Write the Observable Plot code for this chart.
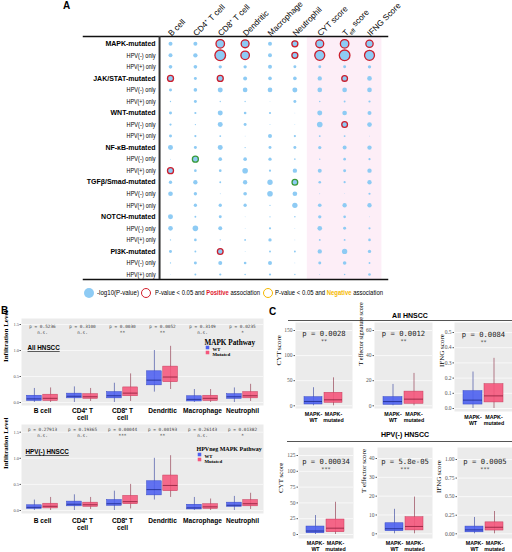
<!DOCTYPE html>
<html><head><meta charset="utf-8">
<script src="https://cdn.jsdelivr.net/npm/d3@7"></script>
<script src="https://cdn.jsdelivr.net/npm/@observablehq/plot@0.6"></script>
<style>
html,body{margin:0;padding:0;background:#fff;}
#root{position:relative;width:512px;height:552px;overflow:hidden;font-family:"Liberation Sans",Arial,sans-serif;color:#000;}
#root svg{position:absolute;}
.t{position:absolute;white-space:nowrap;line-height:1;}
.ring{position:absolute;width:10px;height:10px;border-radius:50%;box-sizing:border-box;}
</style></head><body><div id="root"></div>
<script>
// ---------------- Panel A data ----------------
const aColumns = ["B cell","CD4⁺ T cell","CD8⁺ T cell","Dendritic","Macrophage","Neutrophil","CYT score","Teff score","IFNG Score"];
const aRows = ["MAPK-mutated","HPV(-) only","HPV(+) only","JAK/STAT-mutated","HPV(-) only","HPV(+) only","WNT-mutated","HPV(-) only","HPV(+) only","NF-κB-mutated","HPV(-) only","HPV(+) only","TGFβ/Smad-mutated","HPV(-) only","HPV(+) only","NOTCH-mutated","HPV(-) only","HPV(+) only","PI3K-mutated","HPV(-) only","HPV(+) only"];
const aNegLog10P = [
 [0.66,0.66,3.0,2.6,0.66,1.5,2.6,3.0,2.2],
 [0.66,0.78,4.7,3.0,0.66,1.5,4.1,4.7,4.1],
 [0.55,0.55,0.46,0.46,0.66,0.37,0.37,0.37,0.46],
 [1.5,0.37,1.5,0.66,0.55,0.55,0.78,1.35,0.9],
 [0.37,0.55,1.03,0.9,0.9,1.03,0.9,0.9,0.9],
 [0.07,0.37,0.07,0.07,0.02,0.37,0.1,0.15,0.2],
 [0.37,0.2,1.03,0.29,0.2,0.02,1.03,0.9,0.66],
 [0.2,0.07,1.03,0.37,0.03,0.02,1.3,1.35,0.9],
 [0.37,0.2,0.15,0.02,0.66,0.2,0.15,0.15,0.03],
 [1.03,0.37,1.03,0.07,0.37,0.37,0.46,0.66,0.78],
 [0.03,1.5,0.55,0.55,0.46,0.1,0.07,0.29,0.2],
 [1.5,0.29,0.29,1.3,0.2,0.78,0.66,0.37,0.78],
 [0.46,0.78,0.15,0.78,1.17,1.35,0.29,0.2,0.78],
 [0.9,0.46,0.03,0.55,1.3,0.9,0.03,0.02,0.2],
 [0,0.46,0.46,0.46,0.07,1.17,0.55,0.78,0.78],
 [1.03,0.15,0.37,0.02,0.07,0.1,0.46,0.29,0.03],
 [0.9,1.3,0.66,0.02,0.2,0.02,0.9,0.37,0.2],
 [0.07,0.29,0.07,0.15,0.46,0.02,0.15,0.15,0.29],
 [0.37,0.15,1.35,0.02,0.15,0.15,0.78,1.17,0.46],
 [0.07,0.37,0.66,0.29,0.66,0.02,0.37,0.55,0.15],
 [0.02,0.15,0.2,0.1,0.2,0.07,0.03,0.1,0.29]
];
const aPositive = [[0,2],[0,3],[0,5],[0,6],[0,7],[0,8],[1,2],[1,3],[1,5],[1,6],[1,7],[1,8],[3,0],[3,2],[3,7],[7,7],[11,0],[18,2]];
const aNegative = [[10,1],[12,5]];

// ---------------- Panel B data: [lo, q1, median, q3, hi] ----------------
const bCells = ["B cell","CD4⁺ T\ncell","CD8⁺ T\ncell","Dendritic","Macrophage","Neutrophil"];
const bAllWT  = [[0,0.03,0.07,0.13,0.27],[0,0.08,0.12,0.17,0.30],[0,0.08,0.13,0.20,0.37],[0.2,0.33,0.43,0.60,1.0],[0,0.02,0.06,0.12,0.25],[0,0.07,0.11,0.16,0.28]];
const bAllMut = [[0,0.03,0.08,0.15,0.28],[0.02,0.07,0.11,0.16,0.27],[0.02,0.12,0.18,0.29,0.55],[0.25,0.39,0.49,0.69,1.08],[0,0.03,0.08,0.13,0.25],[0.02,0.08,0.13,0.20,0.35]];
const bAllP   = ["0.5236","0.3100","0.0030","0.0052","0.3149","0.0235"];
const bAllSig = ["n.s.","n.s.","**","**","n.s.","*"];
const bHpvWT  = [[0,0.03,0.06,0.10,0.20],[0,0.08,0.12,0.17,0.30],[0,0.09,0.13,0.20,0.37],[0.2,0.29,0.40,0.56,1.0],[0,0.02,0.05,0.11,0.25],[0,0.07,0.10,0.15,0.27]];
const bHpvMut = [[0,0.04,0.08,0.13,0.25],[0.02,0.07,0.11,0.15,0.25],[0.03,0.12,0.17,0.28,0.50],[0.25,0.37,0.48,0.67,1.05],[0,0.03,0.07,0.12,0.22],[0.02,0.08,0.13,0.20,0.33]];
const bHpvP   = ["0.27913","0.19365","0.00044","0.00193","0.26143","0.01382"];
const bHpvSig = ["n.s.","n.s.","***","**","n.s.","*"];

// ---------------- Panel C data: [lo, q1, median, q3, hi] ----------------
const cGroups = ["MAPK-\nWT","MAPK-\nmutated"];
const cAllCyt  = {wt:[0,2.6,8.6,17.1,36],   mut:[0,6,11.9,25.9,55.7], p:"0.0028",  s:"**"};
const cAllTeff = {wt:[0,0.8,3.4,6.9,17],    mut:[0,1.6,5.3,11.3,25.8], p:"0.0012", s:"**"};
const cAllIfng = {wt:[0,0.026,0.055,0.114,0.24], mut:[0,0.04,0.083,0.16,0.33], p:"0.0084", s:"**"};
const cHpvCyt  = {wt:[0,2,5.5,12.6,30],     mut:[0,3.6,10,23.7,51], p:"0.00034", s:"***"};
const cHpvTeff = {wt:[0,1.4,2.7,5.6,13],    mut:[0,1.8,3.9,8.8,19.5], p:"5.8e-05", s:"***"};
const cHpvIfng = {wt:[0,0.02,0.053,0.097,0.22], mut:[0,0.044,0.088,0.154,0.30], p:"0.0005", s:"***"};

// ---------------- helpers ----------------
const SANS = "'Liberation Sans', Arial, sans-serif";
const SERIF = "'Liberation Serif','Times New Roman',serif";
const MONO = "'DejaVu Sans Mono','Liberation Mono',monospace";
const root = document.getElementById("root");
function put(node, left, top){ node.style.left = left+"px"; node.style.top = top+"px"; root.appendChild(node); return node; }
function label(html, left, top, css){ const d=document.createElement("div"); d.className="t"; d.innerHTML=html; Object.assign(d.style, css||{}); return put(d,left,top); }
function squeeze(el, target){ const w=el.getBoundingClientRect().width; if (w>0){ el.style.transformOrigin="left center"; el.style.transform=`scaleX(${target/w})`; } }
const WT_FILL="#4d60f0", MUT_FILL="#f5577c";

// ---------------- Panel A ----------------
const dotFill = "#8ecbf4";
const posSet = new Set(aPositive.map(([i,j])=>i+","+j));
const negSet = new Set(aNegative.map(([i,j])=>i+","+j));
const aCells = [];
aRows.forEach((r,i)=>aColumns.forEach((c,j)=>aCells.push({i,j,v:aNegLog10P[i][j],k:i+","+j})));
const aRowData = aRows.map((label,i)=>({label,i,main:!label.startsWith("HPV")}));
const plotA = Plot.plot({
  width:512, height:300, marginLeft:83, marginRight:125, marginTop:36, marginBottom:21,
  x:{domain:[0,8], range:[170,369], axis:null},
  y:{domain:[0,20], range:[43.3,274], axis:null},
  r:{type:"sqrt", domain:[0,5], range:[0,5.5]},
  style:{background:"transparent", overflow:"visible", fontFamily:SANS},
  marks:[
    Plot.rect([{a:5.5,b:8.5}], {x1:"a", x2:"b", fill:"#fdeef7"}),
    Plot.frame({anchor:"top", stroke:"#111", strokeWidth:1.5}),
    Plot.frame({anchor:"bottom", stroke:"#111", strokeWidth:1.5}),
    Plot.ruleX([-0.44], {stroke:"#333", strokeWidth:2}),
    Plot.dot(aCells, {x:"j", y:"i", r:"v", fill:dotFill, stroke:null}),
    Plot.dot(aCells.filter(d=>posSet.has(d.k)), {x:"j", y:"i", r:"v", fill:dotFill, stroke:"#cc1e2c", strokeWidth:1.3}),
    Plot.dot(aCells.filter(d=>negSet.has(d.k)), {x:"j", y:"i", r:"v", fill:dotFill, stroke:"#3b9b3b", strokeWidth:1.3}),
    Plot.text(aRowData.filter(d=>d.main), {x:()=>-0.6, y:"i", text:"label", textAnchor:"end", fontWeight:"bold", fontSize:7, fontFamily:SANS}),
    Plot.text(aRowData.filter(d=>!d.main), {x:()=>-0.6, y:"i", text:"label", textAnchor:"end", fontSize:7, fontFamily:SANS}),
    Plot.text(aColumns.map((c,j)=>({c,j})), {x:"j", text:"c", frameAnchor:"top", rotate:-45, textAnchor:"start", dx:-3, dy:-4, fontSize:8.2, fontFamily:SANS})
  ]
});
d3.select(plotA).selectAll("text").filter(function(){return this.textContent==="Teff score";}).each(function(){
  const t=d3.select(this); t.text(null);
  t.append("tspan").text("T");
  t.append("tspan").attr("baseline-shift","sub").attr("font-size","0.7em").text("eff");
  t.append("tspan").text(" score");
});
// condensed look of the HPV sub-row labels
d3.select(plotA).selectAll("text").filter(function(){return /^HPV\(/.test(this.textContent);})
  .attr("textLength",29).attr("lengthAdjust","spacingAndGlyphs");
put(plotA,0,0);

// Panel A legend
const lg = document.createElement("div"); lg.className="ring"; lg.style.background=dotFill; put(lg,84,288);
squeeze(label("-log10(P-value)",97,290,{fontSize:"6.5px"}),42);
const lr = document.createElement("div"); lr.className="ring"; lr.style.border="1.5px solid #d21f2c"; put(lr,141,288);
squeeze(label('P-value &lt; 0.05 and <b style="color:#e0202e">Positive</b> association',155,290,{fontSize:"6.5px"}),105);
const ly = document.createElement("div"); ly.className="ring"; ly.style.border="1.5px solid #f5b800"; put(ly,263,288);
squeeze(label('P-value &lt; 0.05 and <b style="color:#f5b800">Negative</b> association',275,290,{fontSize:"6.5px"}),108);

// panel letters
label("<b>A</b>",63,1,{fontSize:"10px"});
label("<b>B</b>",1,306,{fontSize:"10px"});
label("<b>C</b>",269,307,{fontSize:"10px"});

// ---------------- Panel B ----------------
function toRow(key, a){ return {key, lo:a[0], q1:a[1], med:a[2], q3:a[3], hi:a[4]}; }
function bPanel(cfg){
  const {top,bgTop,bgBottom,y0,yTop,wt,mut,p,sig,tag,tagDx,tagDy,legTitle,legDx,legDy,legSize,pDy,labPad} = cfg;
  const rowsW = bCells.map((c,i)=>toRow(c,wt[i]));
  const rowsM = bCells.map((c,i)=>toRow(c,mut[i]));
  const mb=17, height=bgBottom-top+mb;
  const band=(263-21)/6, boxW=15, gap=1.2, inL=(band-2*boxW-gap)/2, inR=inL+boxW+gap, off=(boxW+gap)/2;
  const pv = bCells.map((c,i)=>({key:c,p:p[i],s:sig[i]}));
  const svg = Plot.plot({
    width:265, height, marginLeft:21, marginRight:2, marginTop:bgTop-top, marginBottom:mb,
    x:{domain:bCells, padding:0},
    y:{domain:[0,1.5], range:[y0-top, yTop-top]},
    style:{background:"transparent", overflow:"visible", fontFamily:SERIF},
    marks:[
      Plot.frame({fill:"#ebebeb", stroke:null}),
      Plot.gridY({ticks:[0,0.5,1,1.5], stroke:"#fff", strokeOpacity:1, strokeWidth:0.6}),
      Plot.axisY({ticks:[0,0.5,1,1.5], tickFormat:".1f", tickSize:1.5, tickPadding:1, fontSize:4.5, color:"#555", label:null}),
      Plot.axisX({tickSize:0, tickPadding:labPad, fontSize:6.6, fontWeight:"bold", fontFamily:SANS, lineHeight:1.06, label:null, color:"#000"}),
      Plot.ruleX(rowsW, {x:"key", y1:"lo", y2:"hi", dx:-off, stroke:"#2b3a9a", strokeWidth:0.6}),
      Plot.ruleX(rowsM, {x:"key", y1:"lo", y2:"hi", dx:off, stroke:"#8a2a40", strokeWidth:0.6}),
      Plot.barY(rowsW, {x:"key", y1:"q1", y2:"q3", insetLeft:inL, insetRight:inR, fill:WT_FILL, fillOpacity:0.88, stroke:"#3346c8", strokeWidth:0.5}),
      Plot.barY(rowsM, {x:"key", y1:"q1", y2:"q3", insetLeft:inR, insetRight:inL, fill:MUT_FILL, fillOpacity:0.88, stroke:"#c83a5a", strokeWidth:0.5}),
      Plot.tickY(rowsW, {x:"key", y:"med", insetLeft:inL, insetRight:inR, stroke:"#1d2a8c", strokeWidth:0.8}),
      Plot.tickY(rowsM, {x:"key", y:"med", insetLeft:inR, insetRight:inL, stroke:"#8c1d3a", strokeWidth:0.8}),
      Plot.text(pv, {x:"key", text:d=>"p = "+d.p, frameAnchor:"top", dy:pDy, fontFamily:MONO, fontSize:4.4, fill:"#444"}),
      Plot.text(pv, {x:"key", text:"s", frameAnchor:"top", dy:pDy+6, fontFamily:MONO, fontSize:4.4, fill:"#444"}),
      Plot.text([tag], {text:d=>d, frameAnchor:"top-left", dx:tagDx, dy:tagDy, textAnchor:"start", fontFamily:SANS, fontWeight:"bold", fontSize:6.3}),
      Plot.text([legTitle], {text:d=>d, frameAnchor:"top-right", dx:legDx, dy:legDy, textAnchor:"start", fontFamily:SERIF, fontWeight:"bold", fontSize:legSize}),
      Plot.dot([0], {frameAnchor:"top-right", dx:legDx+3, dy:legDy+8, symbol:"square", r:2, fill:WT_FILL}),
      Plot.dot([0], {frameAnchor:"top-right", dx:legDx+3, dy:legDy+13, symbol:"square", r:2, fill:MUT_FILL}),
      Plot.text(["WT"], {text:d=>d, frameAnchor:"top-right", dx:legDx+8, dy:legDy+8, textAnchor:"start", fontFamily:SERIF, fontWeight:"bold", fontSize:4.8}),
      Plot.text(["Mutated"], {text:d=>d, frameAnchor:"top-right", dx:legDx+8, dy:legDy+13, textAnchor:"start", fontFamily:SERIF, fontWeight:"bold", fontSize:4.8}),
      Plot.text(["Infiltration Level"], {text:d=>d, frameAnchor:"left", dx:-16, rotate:-90, fontFamily:SERIF, fontWeight:"bold", fontSize:7})
    ]
  });
  d3.select(svg).selectAll("text").filter(function(){return this.textContent===tag;}).attr("text-decoration","underline");
  put(svg,0,top);
}
bPanel({top:310,bgTop:318,bgBottom:405,y0:402,yTop:324,wt:bAllWT,mut:bAllMut,p:bAllP,sig:bAllSig,tag:"All HNSCC",tagDx:6,tagDy:27,legTitle:"MAPK Pathway",legDx:-59,legDy:21,legSize:7.2,pDy:6,labPad:2.6});
bPanel({top:418,bgTop:424,bgBottom:513,y0:510,yTop:431.7,wt:bHpvWT,mut:bHpvMut,p:bHpvP,sig:bHpvSig,tag:"HPV(-) HNSCC",tagDx:4,tagDy:25,legTitle:"HPVneg MAPK Pathway",legDx:-67,legDy:22,legSize:6,pDy:3,labPad:4.6});

// ---------------- Panel C ----------------
function cPanel(cfg){
  const {frameL,frameR,bgTop,bgBottom,y0,yT,dom,ticks,fmt,title,titleX,titleSize,data,pY,sY,labY} = cfg;
  const svgTop=bgTop-4, left=frameL-40, mb=20, height=bgBottom-svgTop+mb;
  const rowW=toRow(cGroups[0],data.wt), rowM=toRow(cGroups[1],data.mut);
  const svg = Plot.plot({
    width:frameR-left, height, marginLeft:40, marginRight:0, marginTop:4, marginBottom:mb,
    x:{domain:cGroups, paddingInner:0.08, paddingOuter:0.4},
    y:{domain:[0,dom], range:[y0-svgTop, yT-svgTop]},
    style:{background:"transparent", overflow:"visible", fontFamily:SERIF},
    marks:[
      Plot.frame({fill:"#ebebeb", stroke:null}),
      Plot.gridY({ticks, stroke:"#fff", strokeOpacity:1, strokeWidth:0.7}),
      Plot.axisY({ticks, tickFormat:fmt, tickSize:1.5, tickPadding:1.5, fontSize:5.5, color:"#555", label:null}),
      Plot.axisX({tickSize:0, tickPadding:labY-bgBottom-2, fontSize:5.3, fontWeight:"bold", fontFamily:SANS, lineHeight:1.12, label:null, color:"#000"}),
      Plot.ruleX([rowW], {x:"key", y1:"lo", y2:"hi", stroke:"#2b3a9a", strokeWidth:0.6}),
      Plot.ruleX([rowM], {x:"key", y1:"lo", y2:"hi", stroke:"#8a2a40", strokeWidth:0.6}),
      Plot.barY([rowW], {x:"key", y1:"q1", y2:"q3", fill:WT_FILL, fillOpacity:0.9, stroke:"#3346c8", strokeWidth:0.5}),
      Plot.barY([rowM], {x:"key", y1:"q1", y2:"q3", fill:MUT_FILL, fillOpacity:0.9, stroke:"#c83a5a", strokeWidth:0.5}),
      Plot.tickY([rowW], {x:"key", y:"med", stroke:"#1d2a8c", strokeWidth:0.8}),
      Plot.tickY([rowM], {x:"key", y:"med", stroke:"#8c1d3a", strokeWidth:0.8}),
      Plot.text([data.p], {text:d=>"p = "+d, frameAnchor:"top", dy:pY-bgTop, fontFamily:MONO, fontSize:7.2, fill:"#222"}),
      Plot.text([data.s], {text:d=>d, frameAnchor:"top", dy:sY-bgTop, fontFamily:MONO, fontSize:5.2, fill:"#333"}),
      Plot.text([title], {text:d=>d, frameAnchor:"left", dx:titleX-frameL, rotate:-90, fontFamily:SERIF, fontSize:titleSize||7})
    ]
  });
  put(svg,left,svgTop);
}
// section headers
label("<b>All HNSCC</b>",410,312,{fontSize:"7px",transform:"translateX(-50%)"});
const l1=document.createElement("div"); l1.style.cssText="position:absolute;width:224px;border-top:1px solid #555;"; put(l1,288,320);
label("<b>HPV(-) HNSCC</b>",405,431,{fontSize:"7px",transform:"translateX(-50%)"});
const l2=document.createElement("div"); l2.style.cssText="position:absolute;width:225px;border-top:1px solid #555;"; put(l2,287,441);

cPanel({frameL:295,frameR:352,bgTop:322,bgBottom:408,y0:405.3,yT:330,dom:150,ticks:[0,50,100,150],fmt:"d",title:"CYT score",titleX:278,data:cAllCyt,pY:330,sY:338.5,labY:413});
cPanel({frameL:374,frameR:432,bgTop:322,bgBottom:408,y0:405.3,yT:330,dom:60,ticks:[0,20,40,60],fmt:"d",title:"T effector signature score",titleX:361,titleSize:6.2,data:cAllTeff,pY:330,sY:338.5,labY:413});
cPanel({frameL:454,frameR:512,bgTop:322,bgBottom:411,y0:408,yT:332,dom:0.5,ticks:[0,0.1,0.2,0.3,0.4,0.5],fmt:".1f",title:"IFNG score",titleX:441,data:cAllIfng,pY:331,sY:339.5,labY:416});
cPanel({frameL:298,frameR:353,bgTop:447,bgBottom:538,y0:534,yT:455,dom:125,ticks:[0,25,50,75,100,125],fmt:"d",title:"CYT score",titleX:280,data:cHpvCyt,pY:458,sY:466.5,labY:542});
cPanel({frameL:377,frameR:432,bgTop:447,bgBottom:538,y0:533.3,yT:458,dom:40,ticks:[0,10,20,30,40],fmt:"d",title:"T effector score",titleX:363,data:cHpvTeff,pY:458,sY:466.5,labY:542});
cPanel({frameL:457,frameR:512,bgTop:447,bgBottom:538,y0:533.3,yT:459,dom:1,ticks:[0,0.25,0.5,0.75,1],fmt:".2f",title:"IFNG score",titleX:438,data:cHpvIfng,pY:458,sY:466.5,labY:542});
</script></body></html>
